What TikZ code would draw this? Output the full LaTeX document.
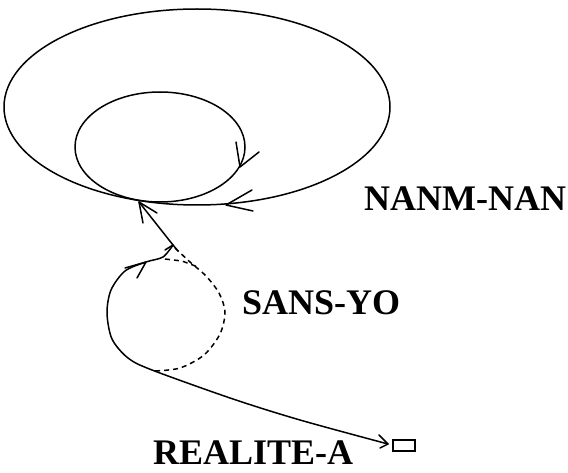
\documentclass[tikz,border=0pt]{standalone}
\usepackage{fontspec}
\setmainfont{Liberation Serif}
\begin{document}
\begin{tikzpicture}[x=1pt,y=-1pt,
  curve/.style={line width=1.5pt, line join=round, line cap=round},
  barb/.style={line width=1.5pt, line cap=round},
  dashcurve/.style={line width=1.5pt, dash pattern=on 5pt off 4pt},
  bigword/.style={font=\bfseries\fontsize{36}{36}\selectfont, inner sep=0pt, anchor=base west}]
\useasboundingbox (0,0) rectangle (568,473);

% the two loops at the top
\draw[curve] (197,107) ellipse [x radius=193pt, y radius=98pt];
\draw[curve] (160,147) ellipse [x radius=85pt, y radius=55pt];

% points on the lower path
\coordinate (meet) at (139,202);
\coordinate (apex) at (173,245);
\coordinate (tip) at (388,444);

% the box at the end
\node[draw, line width=1.3pt, minimum width=22pt, minimum height=11pt, inner sep=0pt] (box) at (404,445.5) {};

% solid path from the meeting point down around the loop to the box
\draw[curve] (meet) -- (apex);
\draw[curve] plot[smooth] coordinates {(apex) (163,257) (146,262) (125,271) (111,290) (107,313) (112,339) (128,358) (152,370) (233,399) (300,420) (tip)};

% dashed half of the lower loop
\draw[dashcurve] plot[smooth] coordinates {(175,248) (190,262) (206,276) (219,293) (225,312) (220,334) (204,355) (180,368) (155,371)};
\draw[dashcurve] (165,259) -- (182,261) -- (198,267);

% arrowheads
\draw[barb] (226,205) -- (252,190) (226,205) -- (253,211);
\draw[barb] (240,167) -- (236,142) (240,167) -- (259,152);
\draw[barb] (meet) -- (143,223) (meet) -- (157,213);
\draw[barb] (apex) -- (165,250) (apex) -- (178,251);
\draw[barb] (146,262) -- (125,268) (146,262) -- (137,278);
\draw[barb] (tip) -- (379,435) (tip) -- (380,448);

% labels
\node[bigword] (nanm) at (364,211) {NANM-NAN};
\node[bigword] (sans) at (242,315) {SANS-YO};
\node[bigword] (realite) at (153,464) {REALITE-A};
\end{tikzpicture}
\end{document}
